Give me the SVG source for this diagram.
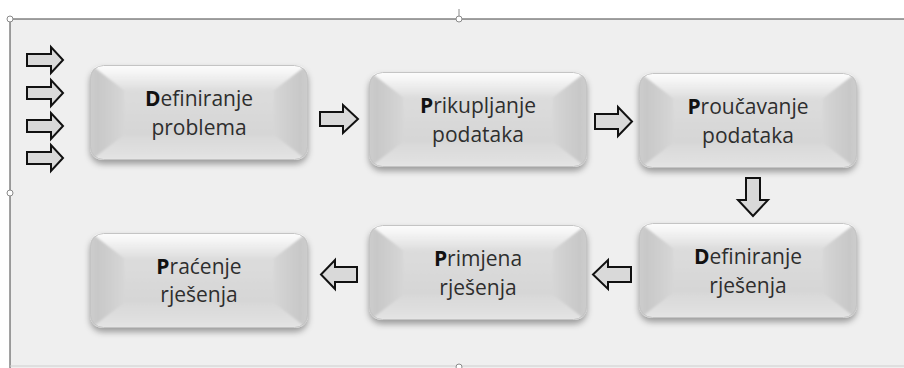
<svg xmlns="http://www.w3.org/2000/svg" xmlns:xlink="http://www.w3.org/1999/xlink" width="904" height="368" viewBox="0 0 904 368">
<style>
.lbl{font-family:"Open Sans","Liberation Sans",sans-serif;font-size:21px;fill:#2e2e2e;text-anchor:middle}
.b{font-weight:bold;fill:#111}
.arr{fill:#d9d9d9;stroke:#111;stroke-width:2;stroke-linejoin:miter}
.handle{fill:#fff;stroke:#8a8a8a;stroke-width:1}
</style>
<defs>
<linearGradient id="gBase" x1="0" y1="0" x2="0" y2="1">
<stop offset="0" stop-color="#ffffff"/>
<stop offset="0.25" stop-color="#eeeeee"/>
<stop offset="0.5" stop-color="#d8d8d8"/>
<stop offset="0.9" stop-color="#d6d6d6"/>
<stop offset="1" stop-color="#bcbcbc"/>
</linearGradient>
<linearGradient id="gTop" x1="0" y1="0" x2="0" y2="1">
<stop offset="0" stop-color="#ffffff"/>
<stop offset="0.35" stop-color="#f7f7f7"/>
<stop offset="1" stop-color="#dedede"/>
</linearGradient>
<linearGradient id="gLeft" x1="0" y1="0" x2="1" y2="0">
<stop offset="0" stop-color="#d0d0d0"/>
<stop offset="0.3" stop-color="#c8c8c8"/>
<stop offset="1" stop-color="#d6d6d6"/>
</linearGradient>
<linearGradient id="gRight" x1="0" y1="0" x2="1" y2="0">
<stop offset="0" stop-color="#d6d6d6"/>
<stop offset="0.7" stop-color="#c8c8c8"/>
<stop offset="1" stop-color="#d0d0d0"/>
</linearGradient>
<linearGradient id="gBot" x1="0" y1="0" x2="0" y2="1">
<stop offset="0" stop-color="#d8d8d8"/>
<stop offset="0.75" stop-color="#e2e2e2"/>
<stop offset="0.92" stop-color="#e8e8e8"/>
<stop offset="1" stop-color="#b5b5b5"/>
</linearGradient>
<linearGradient id="gFace" x1="0" y1="0" x2="0" y2="1">
<stop offset="0" stop-color="#dcdcdc"/>
<stop offset="1" stop-color="#d6d6d6"/>
</linearGradient>
<clipPath id="btnClip"><rect x="0" y="0" width="218" height="95" rx="13"/></clipPath>
<filter id="shadow" x="-10%" y="-10%" width="120%" height="130%">
<feDropShadow dx="0" dy="4" stdDeviation="3" flood-color="#000" flood-opacity="0.35"/>
</filter>
<filter id="soft" x="-5%" y="-5%" width="110%" height="110%">
<feGaussianBlur stdDeviation="1.2"/>
</filter>
<g id="btn">
<g filter="url(#shadow)">
<rect x="0" y="0" width="218" height="95" rx="13" fill="url(#gBase)"/>
</g>
<g clip-path="url(#btnClip)">
<g filter="url(#soft)">
<polygon points="-4,-4 222,-4 184,25 34,25" fill="url(#gTop)"/>
<polygon points="-4,-4 34,25 34,70 -4,99" fill="url(#gLeft)"/>
<polygon points="222,-4 184,25 184,70 222,99" fill="url(#gRight)"/>
<polygon points="-4,99 34,70 184,70 222,99" fill="url(#gBot)"/>
<rect x="34" y="25" width="150" height="45" fill="url(#gFace)"/>
</g>
</g>
<rect x="0.5" y="0.5" width="217" height="94" rx="13" fill="none" stroke="#c4c4c4" stroke-width="1"/>
</g>
</defs>

<rect x="0" y="0" width="904" height="368" fill="#ffffff"/>
<rect x="10" y="19" width="894" height="349" fill="#efefef"/>
<g id="frame">
<line x1="10" y1="19" x2="904" y2="19" stroke="#444" stroke-width="1"/>
<line x1="10" y1="19" x2="10" y2="368" stroke="#444" stroke-width="1"/>
<line x1="10" y1="366" x2="904" y2="366" stroke="#cfcfcf" stroke-width="1"/>
<line x1="459" y1="9" x2="459" y2="19" stroke="#8a8a8a" stroke-width="1"/>
<circle class="handle" cx="10" cy="19" r="3"/>
<circle class="handle" cx="459" cy="19" r="3"/>
<circle class="handle" cx="10" cy="193" r="3"/>
<circle class="handle" cx="459" cy="367" r="3"/>
</g>

<g id="connectors">
<polygon class="arr" points="27,54 51,54 51,47 63,60 51,73 51,66 27,66"/>
<polygon class="arr" points="27,87 51,87 51,80 63,93 51,106 51,99 27,99"/>
<polygon class="arr" points="27,120 51,120 51,113 63,126 51,139 51,132 27,132"/>
<polygon class="arr" points="27,152 51,152 51,145 63,158 51,171 51,164 27,164"/>
<polygon class="arr" points="320,112 343,112 343,105 358,119 343,133 343,126 320,126"/>
<polygon class="arr" points="595,114 618,114 618,107 632,121.5 618,136 618,129 595,129"/>
<polygon class="arr" points="746,178 760,178 760,200 768,200 753,216 738,200 746,200"/>
<polygon class="arr" points="631,267 608,267 608,260 593,274.5 608,289 608,282 631,282"/>
<polygon class="arr" points="357,267 335,267 335,260 321,274.5 335,289 335,282 357,282"/>
</g>

<g id="n1">
<use xlink:href="#btn" x="90" y="65"/>
<text class="lbl" x="199" y="106"><tspan class="b">D</tspan>efiniranje</text>
<text class="lbl" x="199" y="135">problema</text>
</g>
<g id="n2">
<use xlink:href="#btn" x="369" y="72"/>
<text class="lbl" x="478" y="113"><tspan class="b">P</tspan>rikupljanje</text>
<text class="lbl" x="478" y="142">podataka</text>
</g>
<g id="n3">
<use xlink:href="#btn" x="639" y="73"/>
<text class="lbl" x="748" y="114"><tspan class="b">P</tspan>roučavanje</text>
<text class="lbl" x="748" y="143">podataka</text>
</g>
<g id="n4">
<use xlink:href="#btn" x="639" y="223"/>
<text class="lbl" x="748" y="264"><tspan class="b">D</tspan>efiniranje</text>
<text class="lbl" x="748" y="293">rješenja</text>
</g>
<g id="n5">
<use xlink:href="#btn" x="369" y="225"/>
<text class="lbl" x="478" y="266"><tspan class="b">P</tspan>rimjena</text>
<text class="lbl" x="478" y="295">rješenja</text>
</g>
<g id="n6">
<use xlink:href="#btn" x="90" y="233"/>
<text class="lbl" x="199" y="274"><tspan class="b">P</tspan>raćenje</text>
<text class="lbl" x="199" y="302">rješenja</text>
</g>
</svg>
